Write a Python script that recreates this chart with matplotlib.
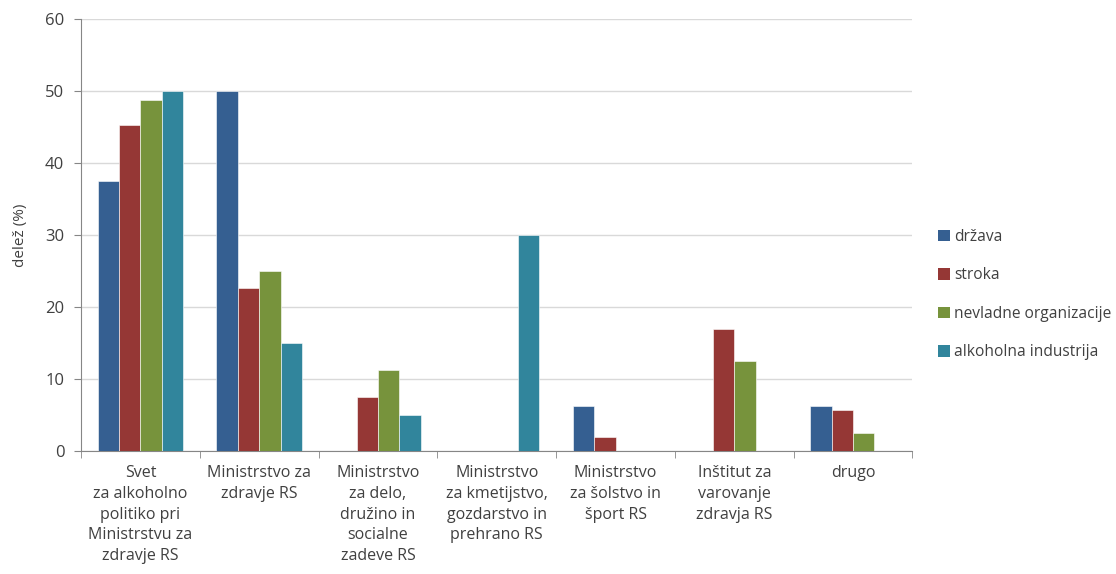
import numpy as np
import matplotlib.pyplot as plt
from matplotlib.patches import Patch

plt.rcParams['font.family'] = ['Open Sans', 'DejaVu Sans']

# podatki
kategorije = ["Svet\nza alkoholno\npolitiko pri\nMinistrstvu za\nzdravje RS",
              "Ministrstvo za\nzdravje RS",
              "Ministrstvo\nza delo,\ndružino in\nsocialne\nzadeve RS",
              "Ministrstvo\nza kmetijstvo,\ngozdarstvo in\nprehrano RS",
              "Ministrstvo\nza šolstvo in\nšport RS",
              "Inštitut za\nvarovanje\nzdravja RS",
              "drugo"]
drzava = [37.5, 50, 0, 0, 6.25, 0, 6.25]
stroka = [45.3, 22.6, 7.5, 0, 1.9, 16.9, 5.7]
nevladne = [48.8, 25, 11.25, 0, 0, 12.5, 2.5]
industrija = [50, 15, 5, 30, 0, 0, 0]

serije = ["država", "stroka", "nevladne organizacije", "alkoholna industrija"]
barve = ["#355F91", "#953735", "#77933C", "#31859C"]

fig = plt.figure(figsize=(11.16, 5.74), dpi=100)
ax = fig.add_axes([0.0726, 0.214, 0.745, 0.753])

x = np.arange(len(kategorije))
w = 0.18
for i, (vals, c) in enumerate(zip([drzava, stroka, nevladne, industrija], barve)):
    ax.bar(x + (i - 1.5) * w, vals, w, color=c, edgecolor="white", linewidth=0.4, zorder=3)

ax.set_xlim(-0.5, len(kategorije) - 0.5)
ax.set_ylim(0, 60)
ax.set_yticks(range(0, 61, 10))
ax.yaxis.grid(True, color="#D9D9D9", linewidth=1, zorder=0)
ax.set_xticks(x)
ax.set_xticklabels(kategorije, fontsize=11.5, color="#404040", linespacing=1.4)
ax.set_xticks(np.arange(-0.5, len(kategorije)), minor=True)
ax.tick_params(axis="x", which="major", length=0, pad=10)
ax.tick_params(axis="x", which="minor", length=5, color="#868686")
ax.tick_params(axis="y", length=5, color="#868686", labelsize=12, labelcolor="#404040", pad=7)

for s in ["top", "right"]:
    ax.spines[s].set_visible(False)
ax.spines["left"].set_color("#868686")
ax.spines["bottom"].set_color("#868686")

ax.set_ylabel("delež (%)", fontsize=11, color="#404040", labelpad=12)

handles = [Patch(facecolor=c, label=l) for c, l in zip(barve, serije)]
fig.legend(handles=handles, loc="upper left", bbox_to_anchor=(0.828, 0.626), frameon=False,
           fontsize=11.2, labelspacing=1.45, handlelength=0.75, handleheight=0.75,
           handletextpad=0.3, labelcolor="#404040")

fig.savefig("out.png", dpi=100)
